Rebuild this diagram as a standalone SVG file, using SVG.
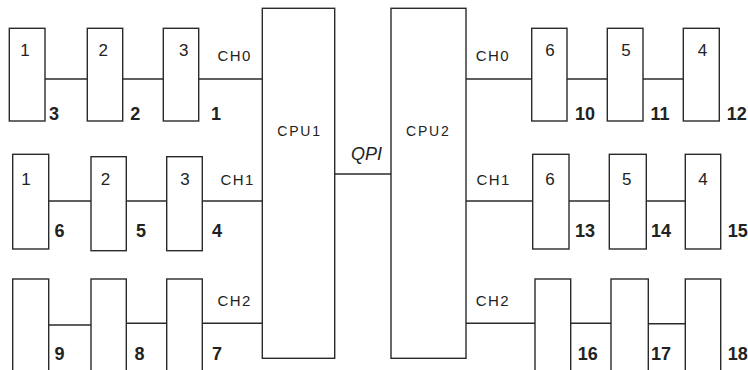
<svg xmlns="http://www.w3.org/2000/svg" width="748" height="370" viewBox="0 0 748 370">
<style>
.box{fill:#fff;stroke:#2a2a2a;stroke-width:1.4}
.ln{stroke:#2a2a2a;stroke-width:1.4;fill:none}
.d{font-family:"Liberation Sans",Arial,sans-serif;font-size:17px;fill:#222;text-anchor:middle}
.b{font-family:"Liberation Sans",Arial,sans-serif;font-size:18px;font-weight:bold;fill:#222}
.ch{font-family:"Liberation Sans",Arial,sans-serif;font-size:15px;letter-spacing:1.4px;fill:#222}
.cpu{font-family:"Liberation Sans",Arial,sans-serif;font-size:14px;letter-spacing:1.8px;fill:#222}
.qpi{font-family:"Liberation Sans",Arial,sans-serif;font-size:18px;font-style:italic;fill:#222}
</style>
<rect width="748" height="370" fill="#fff"/>
<g id="connectors">
<line class="ln" x1="45" y1="79" x2="87.3" y2="79"/>
<line class="ln" x1="122.7" y1="79" x2="163.3" y2="79"/>
<line class="ln" x1="198.7" y1="79" x2="262.3" y2="79"/>
<line class="ln" x1="48.7" y1="201" x2="91" y2="201"/>
<line class="ln" x1="126.3" y1="201" x2="166.7" y2="201"/>
<line class="ln" x1="202.3" y1="201" x2="262.3" y2="201"/>
<line class="ln" x1="48.7" y1="325" x2="91" y2="325"/>
<line class="ln" x1="126.3" y1="323.3" x2="166.7" y2="323.3"/>
<line class="ln" x1="202.3" y1="323.3" x2="262.3" y2="323.3"/>
<line class="ln" x1="334.7" y1="174" x2="391" y2="174"/>
<line class="ln" x1="466" y1="79" x2="531.7" y2="79"/>
<line class="ln" x1="567" y1="79" x2="607.3" y2="79"/>
<line class="ln" x1="643" y1="79" x2="683.3" y2="79"/>
<line class="ln" x1="466" y1="201" x2="532.7" y2="201"/>
<line class="ln" x1="569" y1="201" x2="609.3" y2="201"/>
<line class="ln" x1="646.3" y1="201" x2="685.3" y2="201"/>
<line class="ln" x1="466" y1="323.3" x2="535" y2="323.3"/>
<line class="ln" x1="570.7" y1="323.3" x2="611" y2="323.3"/>
<line class="ln" x1="648.3" y1="323.7" x2="685.3" y2="323.7"/>
<text class="qpi" x="351" y="160">QPI</text>
<text class="ch" x="217.5" y="61">CH0</text>
<text class="ch" x="220.5" y="185">CH1</text>
<text class="ch" x="217.5" y="306">CH2</text>
<text class="ch" x="475.8" y="61">CH0</text>
<text class="ch" x="476.5" y="185">CH1</text>
<text class="ch" x="475.8" y="306">CH2</text>
</g>
<g id="cpu1"><rect class="box" x="262.3" y="8.3" width="72.4" height="350"/><text class="cpu" x="277.3" y="136">CPU1</text></g>
<g id="cpu2"><rect class="box" x="391" y="8.3" width="75" height="350"/><text class="cpu" x="406" y="136">CPU2</text></g>

<g id="dimm3"><rect class="box" x="9.3" y="28.3" width="35.7" height="92.7"/><text class="d" x="25" y="56">1</text><text class="b" x="49" y="120">3</text></g>
<g id="dimm2"><rect class="box" x="87.3" y="28.3" width="35.4" height="92.7"/><text class="d" x="103.3" y="56">2</text><text class="b" x="130.3" y="120">2</text></g>
<g id="dimm1"><rect class="box" x="163.3" y="28.3" width="35.4" height="92.7"/><text class="d" x="183.7" y="56">3</text><text class="b" x="211" y="120">1</text></g>

<g id="dimm6"><rect class="box" x="12.7" y="154.3" width="36" height="94.7"/><text class="d" x="26" y="185">1</text><text class="b" x="54.5" y="237">6</text></g>
<g id="dimm5"><rect class="box" x="91" y="156.7" width="35.3" height="94"/><text class="d" x="105.5" y="185">2</text><text class="b" x="136" y="237">5</text></g>
<g id="dimm4"><rect class="box" x="166.7" y="156.7" width="35.6" height="94"/><text class="d" x="185" y="185">3</text><text class="b" x="212" y="237">4</text></g>

<g id="dimm9"><rect class="box" x="12.7" y="279" width="36" height="110"/><text class="b" x="54.5" y="360">9</text></g>
<g id="dimm8"><rect class="box" x="91" y="279" width="35.3" height="110"/><text class="b" x="134.5" y="360">8</text></g>
<g id="dimm7"><rect class="box" x="166.7" y="279" width="35.6" height="110"/><text class="b" x="212" y="360">7</text></g>

<g id="dimm10"><rect class="box" x="531.7" y="28.3" width="35.3" height="92.7"/><text class="d" x="550" y="56">6</text><text class="b" x="575" y="120">10</text></g>
<g id="dimm11"><rect class="box" x="607.3" y="28.3" width="35.7" height="92.7"/><text class="d" x="626" y="56">5</text><text class="b" x="650.5" y="120">11</text></g>
<g id="dimm12"><rect class="box" x="683.3" y="28.3" width="36" height="92.7"/><text class="d" x="702.5" y="56">4</text><text class="b" x="726.8" y="120">12</text></g>

<g id="dimm13"><rect class="box" x="532.7" y="154.3" width="36.3" height="94.7"/><text class="d" x="550" y="185">6</text><text class="b" x="575" y="237">13</text></g>
<g id="dimm14"><rect class="box" x="609.3" y="154.3" width="37" height="94.7"/><text class="d" x="626.7" y="185">5</text><text class="b" x="651" y="237">14</text></g>
<g id="dimm15"><rect class="box" x="685.3" y="154.3" width="35.4" height="94.7"/><text class="d" x="703" y="185">4</text><text class="b" x="727.8" y="237">15</text></g>

<g id="dimm16"><rect class="box" x="535" y="279" width="35.7" height="110"/><text class="b" x="577.8" y="360">16</text></g>
<g id="dimm17"><rect class="box" x="611" y="279" width="37.3" height="110"/><text class="b" x="651" y="360">17</text></g>
<g id="dimm18"><rect class="box" x="685.3" y="279" width="35.4" height="110"/><text class="b" x="727.8" y="360">18</text></g>
</svg>
